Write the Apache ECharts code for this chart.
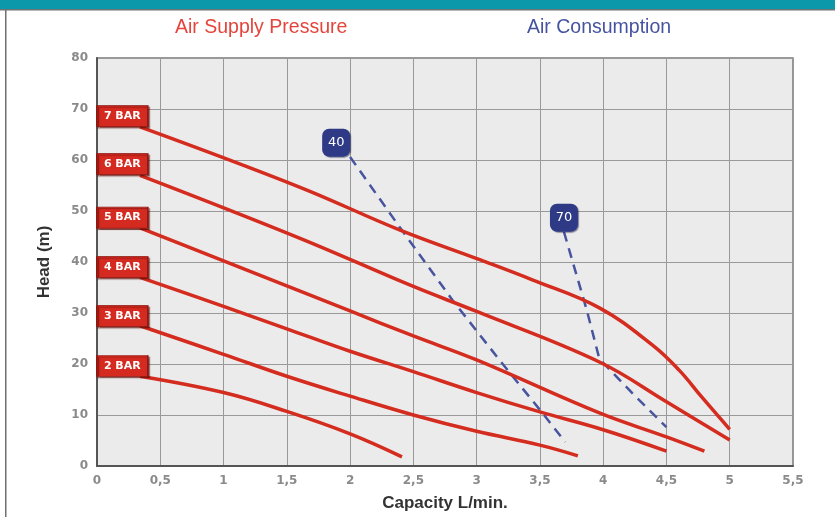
<!DOCTYPE html>
<html>
<head>
<meta charset="utf-8">
<script src="https://cdn.jsdelivr.net/npm/echarts@6/dist/echarts.min.js"></script>
<style>html,body{margin:0;padding:0;background:#fff;}#c{width:835px;height:517px;}</style>
</head>
<body>
<div id="c"></div>
<script>
// ---- data ----
const xTicks = [0, 0.5, 1, 1.5, 2, 2.5, 3, 3.5, 4, 4.5, 5, 5.5];
const yTicks = [0, 10, 20, 30, 40, 50, 60, 70, 80];

const bar7X = [0.34, 1.6, 2.39, 3.03, 3.44, 3.97, 4.39, 4.6, 4.78, 5.0];
const bar7Y = [66.5, 54.7, 46.3, 40.4, 36.5, 31.0, 23.7, 18.8, 13.5, 7.2];
const bar6X = [0.34, 1.6, 2.5, 3.0, 3.97, 4.5, 5.0];
const bar6Y = [57.0, 44.7, 35.2, 30.3, 20.4, 12.6, 5.1];
const bar5X = [0.34, 1.0, 1.5, 2.0, 2.5, 3.0, 3.97, 4.5, 4.8];
const bar5Y = [46.7, 40.2, 35.3, 30.4, 25.5, 20.8, 10.4, 5.7, 2.9];
const bar4X = [0.34, 1.0, 1.5, 2.0, 2.5, 3.0, 3.5, 4.0, 4.5];
const bar4Y = [37.0, 31.3, 26.9, 22.5, 18.5, 14.4, 10.6, 7.1, 2.9];
const bar3X = [0.34, 1.0, 1.5, 2.0, 2.5, 3.0, 3.5, 3.8];
const bar3Y = [27.5, 21.9, 17.6, 13.7, 10.0, 6.8, 4.1, 2.0];
const bar2X = [0.34, 1.0, 1.5, 2.0, 2.41];
const bar2Y = [17.6, 14.4, 10.7, 6.3, 1.8];

const air40X = [2.0, 2.39, 2.81, 3.18, 3.52, 3.7];
const air40Y = [60.6, 46.9, 32.5, 20.8, 10.4, 4.7];
const air70X = [3.69, 3.87, 3.97, 4.23, 4.5];
const air70Y = [45.9, 30.6, 21.0, 14.3, 7.6];

const barNames = ['7 BAR', '6 BAR', '5 BAR', '4 BAR', '3 BAR', '2 BAR'];
const barLabelX = [0.2, 0.2, 0.2, 0.2, 0.2, 0.2];
const barLabelY = [68.6, 59.2, 48.7, 39.0, 29.4, 19.6];

const airNames = ['40', '70'];
const airLabelX = [1.89, 3.69];
const airLabelY = [63.4, 48.7];

// ---- build ----
const zip = (xs, ys) => xs.map((x, i) => [x, ys[i]]);
const RED = '#d42c1f';
const BLUE = '#48559e';
const fmt = v => String(v).replace('.', ',');

const redSeries = [
  [bar7X, bar7Y], [bar6X, bar6Y], [bar5X, bar5Y],
  [bar4X, bar4Y], [bar3X, bar3Y], [bar2X, bar2Y]
].map((p, i) => ({
  type: 'line', name: barNames[i], data: zip(p[0], p[1]),
  smooth: 0.4, symbol: 'none', z: 3,
  lineStyle: { color: RED, width: 3.5 }
}));

const blueSeries = [[air40X, air40Y], [air70X, air70Y]].map((p, i) => ({
  type: 'line', name: airNames[i], data: zip(p[0], p[1]),
  smooth: false, symbol: 'none', z: 2,
  lineStyle: { color: BLUE, width: 2.5, type: [10, 7] }
}));

const chart = echarts.init(document.getElementById('c'), null, { renderer: 'canvas' });
chart.setOption({
  animation: false,
  backgroundColor: '#ffffff',
  graphic: [
    { type: 'rect', shape: { x: 0, y: 0, width: 835, height: 9 }, style: { fill: '#0a98aa' }, z: 10 },
    { type: 'rect', shape: { x: 0, y: 9, width: 835, height: 1.5 }, style: { fill: '#6f7476' }, z: 10 },
    { type: 'rect', shape: { x: 5, y: 9, width: 1.5, height: 508 }, style: { fill: '#6f6f6f' }, z: 10 },
    { type: 'text', left: 175, top: 18, style: { text: 'Air Supply Pressure', fill: '#e4443b', font: '19.5px "Liberation Sans", Arial, sans-serif' } },
    { type: 'text', left: 527, top: 18, style: { text: 'Air Consumption', fill: '#4553a0', font: '19.5px "Liberation Sans", Arial, sans-serif' } }
  ],
  grid: {
    left: 97, right: 42, top: 58, bottom: 51,
    show: true, backgroundColor: '#ebebeb', borderColor: '#7a7a7a', borderWidth: 1.5
  },
  xAxis: {
    type: 'value', min: 0, max: 5.5, interval: 0.5,
    name: 'Capacity L/min.', nameLocation: 'middle', nameGap: 29,
    nameTextStyle: { fontSize: 17, fontWeight: 'bold', color: '#333', fontFamily: 'Liberation Sans, Arial' },
    axisLine: { lineStyle: { color: '#555', width: 2 } },
    axisTick: { show: false },
    axisLabel: { margin: 9, fontSize: 12, fontWeight: 'bold', color: '#8a8a8a', formatter: fmt, fontFamily: 'DejaVu Sans' },
    splitLine: { lineStyle: { color: '#999', width: 1 } }
  },
  yAxis: {
    type: 'value', min: 0, max: 80, interval: 10,
    name: 'Head (m)', nameLocation: 'middle', nameGap: 44,
    nameTextStyle: { fontSize: 17, fontWeight: 'bold', color: '#333', fontFamily: 'Liberation Sans, Arial' },
    axisLine: { show: true, lineStyle: { color: '#555', width: 2 } },
    axisTick: { show: false },
    axisLabel: { margin: 9, fontSize: 12, fontWeight: 'bold', color: '#8a8a8a', fontFamily: 'DejaVu Sans' },
    splitLine: { lineStyle: { color: '#999', width: 1 } }
  },
  series: [
    ...blueSeries,
    ...redSeries,
    {
      type: 'scatter', z: 5,
      data: zip(barLabelX, barLabelY).map((d, i) => ({ value: d, name: barNames[i] })),
      symbol: 'rect', symbolSize: [51, 21],
      itemStyle: { color: '#d52a20', borderColor: '#8e1812', borderWidth: 1, shadowColor: 'rgba(90,10,5,0.6)', shadowOffsetX: 1.5, shadowOffsetY: 1.5, shadowBlur: 1, opacity: 1 },
      label: { show: true, position: 'inside', formatter: p => p.name, color: '#fff', fontSize: 11, fontWeight: 'bold', fontFamily: 'DejaVu Sans' }
    },
    {
      type: 'scatter', z: 5,
      data: zip(airLabelX, airLabelY).map((d, i) => ({ value: d, name: airNames[i] })),
      symbol: 'roundRect', symbolSize: [28, 28],
      itemStyle: { color: '#2e3a86', shadowColor: 'rgba(20,20,60,0.5)', shadowOffsetX: 1, shadowOffsetY: 1, shadowBlur: 1, opacity: 1 },
      label: { show: true, position: 'inside', formatter: p => p.name, color: '#fff', fontSize: 13, fontFamily: 'DejaVu Sans' }
    }
  ]
});
</script>
</body>
</html>
